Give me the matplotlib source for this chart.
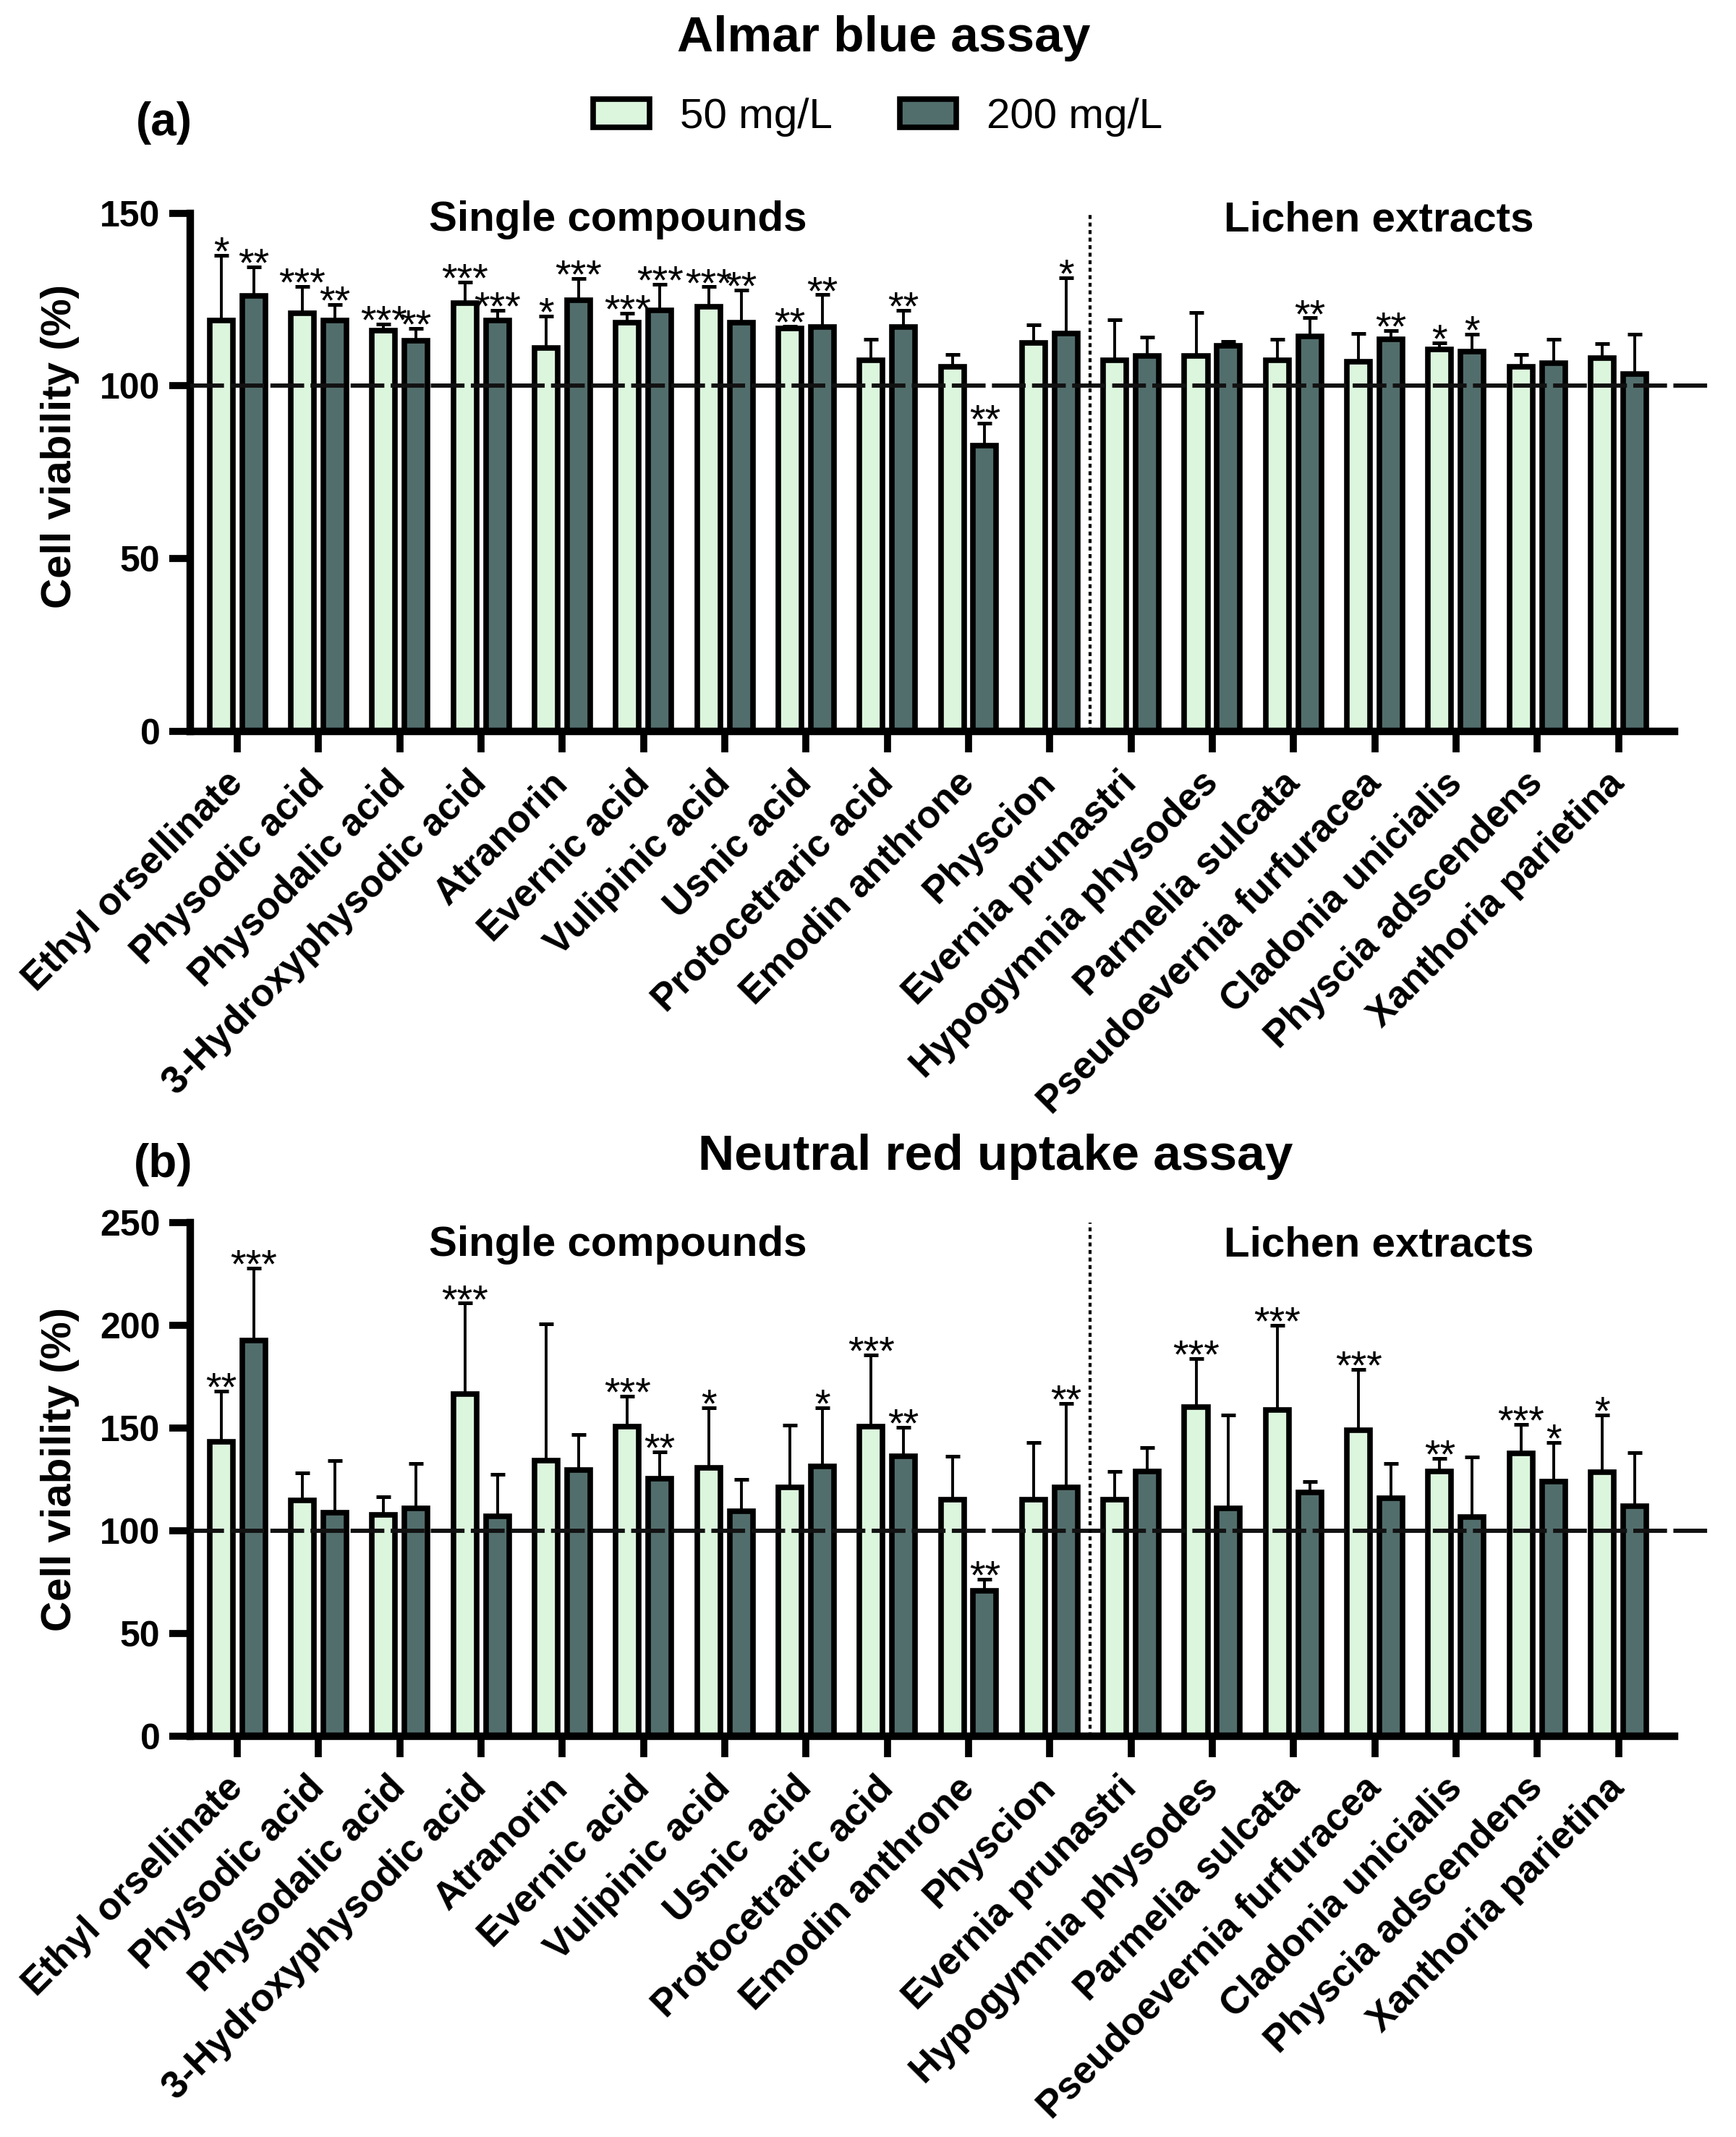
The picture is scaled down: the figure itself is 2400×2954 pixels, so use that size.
import matplotlib
matplotlib.use('Agg')
import matplotlib.pyplot as plt
import matplotlib.transforms as mtrans
from matplotlib.patches import Patch
import numpy as np

# Categories (single compounds first, then lichen extracts)
categories = ['Ethyl orsellinate', 'Physodic acid', 'Physodalic acid', '3-Hydroxyphysodic acid',
	'Atranorin', 'Evernic acid', 'Vulipinic acid', 'Usnic acid', 'Protocetraric acid',
	'Emodin anthrone', 'Physcion', 'Evernia prunastri', 'Hypogymnia physodes', 'Parmelia sulcata',
	'Pseudoevernia furfuracea', 'Cladonia unicialis', 'Physcia adscendens', 'Xanthoria parietina']
n_single = 11

# (a) Almar blue assay, mean and upper SD
alamar_50 = [118.9, 121.0, 116.0, 123.9, 110.9, 118.4, 123.0, 116.7, 107.5, 105.5, 112.5,
	107.5, 108.6, 107.5, 107.0, 110.6, 105.5, 108.1]
alamar_50_sd = [18.9, 7.8, 2.0, 6.1, 9.3, 2.6, 5.7, 0.6, 6.0, 3.7, 5.1,
	11.6, 12.7, 6.0, 8.1, 1.9, 3.7, 4.1]
alamar_200 = [126.0, 118.9, 113.0, 118.9, 124.9, 121.9, 118.4, 117.0, 117.0, 82.8, 115.1,
	108.6, 111.6, 114.4, 113.6, 110.0, 106.5, 103.5]
alamar_200_sd = [8.5, 4.6, 3.7, 3.0, 6.2, 7.6, 9.4, 9.4, 4.9, 6.5, 16.2,
	5.5, 1.3, 5.3, 2.4, 4.9, 7.0, 11.4]
alamar_50_stars = ['*', '***', '***', '***', '*', '***', '***', '**', '', '', '',
	'', '', '', '', '*', '', '']
alamar_200_stars = ['**', '**', '**', '***', '***', '***', '**', '**', '**', '**', '*',
	'', '', '**', '**', '*', '', '']

# (b) Neutral red uptake assay, mean and upper SD
nru_50 = [143.3, 114.6, 107.9, 166.6, 134.2, 150.8, 130.6, 121.1, 150.8, 115.0, 115.0,
	115.0, 160.3, 158.9, 148.8, 128.7, 137.7, 128.5]
nru_50_sd = [24.7, 13.5, 8.7, 44.1, 66.4, 14.8, 29.3, 30.3, 34.6, 21.2, 27.9,
	13.7, 23.5, 41.1, 29.7, 6.5, 14.1, 27.8]
nru_200 = [192.5, 108.9, 110.9, 106.9, 129.6, 125.5, 109.5, 131.2, 136.2, 70.9, 121.1,
	128.7, 110.9, 118.6, 115.8, 106.5, 123.9, 111.9]
nru_200_sd = [35.2, 25.3, 21.7, 20.6, 17.2, 12.8, 15.6, 28.7, 14.2, 5.6, 40.8,
	11.6, 45.4, 5.3, 17.0, 29.5, 19.0, 26.0]
nru_50_stars = ['**', '', '', '***', '', '***', '*', '', '***', '', '',
	'', '***', '***', '***', '**', '***', '*']
nru_200_stars = ['***', '', '', '', '', '**', '', '*', '**', '**', '**',
	'', '', '', '', '', '*', '']

legend_labels = ['50 mg/L', '200 mg/L']

LIGHT = '#dcf6dd'
DARK = '#526e6c'
XLEFT = -0.58
XRIGHT = 17.69


# Function: draw_panel
# Description: grouped bars with upper error bars, stars, 100% line and separator
def draw_panel(fig, ax, m50, sd50, m200, sd200, st50, st200, ymax, yticks, sec_y):
	x = np.arange(len(categories))
	off = 0.2
	w = 0.285
	ax.bar(x - off, m50, w, color=LIGHT, edgecolor='black', linewidth=5.5, zorder=1)
	ax.bar(x + off, m200, w, color=DARK, edgecolor='black', linewidth=5.5, zorder=1)
	ax.errorbar(x - off, m50, yerr=[np.zeros(len(x)), sd50], fmt='none', ecolor='black',
		elinewidth=2.8, capsize=7.5, capthick=3.6, zorder=2)
	ax.errorbar(x + off, m200, yerr=[np.zeros(len(x)), sd200], fmt='none', ecolor='black',
		elinewidth=2.8, capsize=7.5, capthick=3.6, zorder=2)

	# significance stars
	for xs, m, sd, st in [(x - off, m50, sd50, st50), (x + off, m200, sd200, st200)]:
		for xi, mi, si, s in zip(xs, m, sd, st):
			if s:
				ax.annotate(s, (xi, mi + si), xytext=(0, -9), textcoords='offset points',
					ha='center', va='baseline', fontsize=40, fontweight='normal', zorder=5)

	# 100 % reference line and separator
	ln, = ax.plot([XLEFT, 18.1], [100, 100], color='#111111', lw=4.2, clip_on=False, zorder=4)
	ln.set_dashes((8, 1.5))
	sep, = ax.plot([n_single - 0.5, n_single - 0.5], [0, ymax], color='black', lw=3, zorder=4)
	sep.set_dashes((1.3, 1.2))

	ax.text(4.68, sec_y, 'Single compounds', ha='center', va='center', fontsize=42, fontweight='bold')
	ax.text(14.05, sec_y, 'Lichen extracts', ha='center', va='center', fontsize=42, fontweight='bold')

	ax.set_xlim(XLEFT, XRIGHT)
	ax.set_ylim(0, ymax)
	ax.set_yticks(yticks)
	ax.set_xticks(x)
	ax.set_xticklabels(categories, fontsize=38, fontweight='bold', rotation=45,
		rotation_mode='anchor', ha='right', va='center')
	shift = mtrans.ScaledTranslation(0.2, 0, fig.dpi_scale_trans)
	for lab in ax.get_xticklabels():
		lab.set_transform(lab.get_transform() + shift)

	for side in ['top', 'right']:
		ax.spines[side].set_visible(False)
	for side in ['left', 'bottom']:
		ax.spines[side].set_linewidth(7.5)
		ax.spines[side].set_capstyle('projecting')
	ax.tick_params(axis='x', length=21, width=7, pad=25)
	ax.tick_params(axis='y', length=21, width=7, pad=9, labelsize=36)
	for lab in ax.get_yticklabels():
		lab.set_fontweight('bold')
	ax.set_ylabel('Cell viability (%)', fontsize=42, fontweight='bold')


def main():
	plt.rcParams['font.family'] = ['Liberation Sans', 'DejaVu Sans']

	fig = plt.figure(figsize=(24, 29.54), dpi=100)

	####### Part a #######
	ax_a = fig.add_axes([0.1096, 0.6578, 0.855, 0.2424])
	draw_panel(fig, ax_a, alamar_50, alamar_50_sd, alamar_200, alamar_200_sd,
		alamar_50_stars, alamar_200_stars, 150, [0, 50, 100, 150], 148)
	ax_a.yaxis.set_label_coords(-0.0746, 0.55)

	####### Part b #######
	ax_b = fig.add_axes([0.1096, 0.18754, 0.855, 0.2404])
	draw_panel(fig, ax_b, nru_50, nru_50_sd, nru_200, nru_200_sd,
		nru_50_stars, nru_200_stars, 250, [0, 50, 100, 150, 200, 250], 239)
	ax_b.yaxis.set_label_coords(-0.0746, 0.52)

	# Titles and panel letters
	fig.text(0.509, 0.982, 'Almar blue assay', ha='center', va='center', fontsize=50, fontweight='bold')
	fig.text(0.0944, 0.9425, '(a)', ha='center', va='center', fontsize=46, fontweight='bold')
	fig.text(0.5735, 0.4587, 'Neutral red uptake assay', ha='center', va='center', fontsize=50, fontweight='bold')
	fig.text(0.094, 0.455, '(b)', ha='center', va='center', fontsize=46, fontweight='bold')

	handles = [Patch(facecolor=LIGHT, edgecolor='black', linewidth=5.5),
		Patch(facecolor=DARK, edgecolor='black', linewidth=5.5)]
	fig.legend(handles, legend_labels, loc='center', bbox_to_anchor=(0.5056, 0.9452), ncol=2,
		frameon=False, prop={'size': 42, 'weight': 'normal'}, handlelength=1.33, handleheight=0.64,
		handletextpad=0.72, columnspacing=1.6, borderpad=0)

	fig.savefig('out.png', dpi=100)
	plt.close(fig)


if __name__ == "__main__":
	main()
